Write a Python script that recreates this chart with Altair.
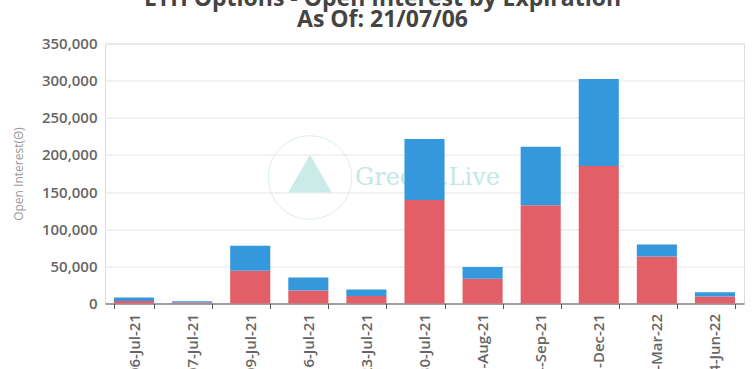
import altair as alt
import pandas as pd

expiries = ["06-Jul-21", "07-Jul-21", "09-Jul-21", "16-Jul-21", "23-Jul-21", "30-Jul-21",
            "27-Aug-21", "24-Sep-21", "31-Dec-21", "25-Mar-22", "24-Jun-22"]
call_oi = [3500, 1500, 44000, 17500, 10200, 139200, 33200, 132100, 185100, 63400, 9400]
put_oi = [4600, 1600, 33600, 17500, 8700, 82300, 16100, 79000, 117200, 16100, 5800]
series_names = ["Call", "Put"]
series_colors = ["#e35f67", "#3598dc"]
y_ticks = [0, 50000, 100000, 150000, 200000, 250000, 300000, 350000]

rows = []
for e, c, p in zip(expiries, call_oi, put_oi):
    rows.append({"expiry": e, "type": "Call", "oi": c, "ord": 0})
    rows.append({"expiry": e, "type": "Put", "oi": p, "ord": 1})
df = pd.DataFrame(rows)

bars = alt.Chart(df).mark_bar().encode(
    x=alt.X("expiry:N", sort=expiries,
            scale=alt.Scale(paddingInner=0.31, paddingOuter=0.155),
            axis=alt.Axis(title=None, labelAngle=-90, labelFontSize=15, labelFontWeight=600,
                          labelColor="#666666", labelFont="Open Sans", labelPadding=5,
                          domainColor="#555555", tickColor="#555555", tickSize=5,
                          tickBand="extent", grid=False, labelBaseline="middle", labelAlign="right")),
    y=alt.Y("oi:Q", stack="zero",
            scale=alt.Scale(domain=[0, 350000], nice=False),
            axis=alt.Axis(title="Open Interest(Θ)", values=y_ticks, format=",d",
                          labelFontSize=15, labelFontWeight=600, labelColor="#666666",
                          labelFont="Open Sans", labelPadding=8,
                          titleFont="Open Sans", titleFontSize=12, titleFontWeight="normal",
                          titleColor="#999999", titlePadding=16,
                          domain=False, ticks=False, gridColor="#e6e6e6")),
    color=alt.Color("type:N", scale=alt.Scale(domain=series_names, range=series_colors), legend=None),
    order=alt.Order("ord:Q", sort="ascending"),
)

watermark_text = alt.Chart(pd.DataFrame({"t": ["Greeks.Live"]})).mark_text(
    font="DejaVu Serif", fontSize=24, color="#a9ddd9", opacity=0.7, align="left", baseline="middle"
).encode(text="t:N", x=alt.value(250), y=alt.value(134))

watermark_circle = alt.Chart(pd.DataFrame({"t": ["logo"]})).mark_point(
    shape="circle", size=7000, color="#cfe9e7", strokeWidth=1, filled=False
).encode(x=alt.value(205), y=alt.value(134))

watermark_sail = alt.Chart(pd.DataFrame({"t": ["logo"]})).mark_point(
    shape="triangle-up", size=1900, color="#a9ddd9", opacity=0.6, filled=True
).encode(x=alt.value(205), y=alt.value(130))

chart = alt.layer(watermark_circle, watermark_sail, watermark_text, bars).properties(
    width=639, height=260,
    title=alt.TitleParams(
        text=["ETH Options - Open Interest by Expiration", "As Of: 21/07/06"],
        font="Open Sans", fontSize=23, fontWeight="bold", color="#444444",
        anchor="middle", frame="group", dx=-42, lineHeight=21, offset=5,
    ),
    autosize=alt.AutoSizeParams(type="none"),
    padding={"left": 105, "top": 43.5, "right": 12, "bottom": 66},
).configure_view(stroke=None).configure(background="white")

chart.save("out.html", embed_options={"renderer": "svg", "actions": False})
